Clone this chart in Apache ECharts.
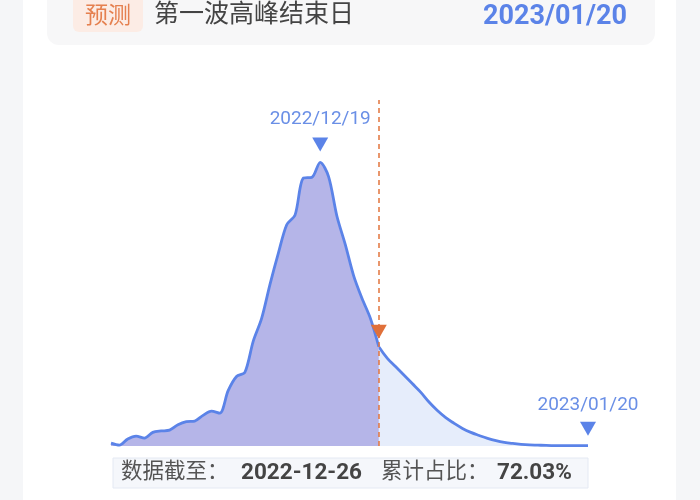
<!DOCTYPE html>
<html><head><meta charset="utf-8">
<script src="https://cdn.jsdelivr.net/npm/echarts@6/dist/echarts.min.js"></script>
<style>
html,body{margin:0;padding:0;width:700px;height:500px;background:#f5f6f8;overflow:hidden}
#card{position:absolute;left:23px;top:0;width:653px;height:500px;background:#fff}
#c{position:absolute;left:0;top:0;width:700px;height:500px}
</style></head>
<body><div id="card"></div><div id="c"></div>
<script>
// Dates 2022-11-24 .. 2023-01-20
const dates = [
 '2022-11-24','2022-11-25','2022-11-26','2022-11-27','2022-11-28','2022-11-29','2022-11-30',
 '2022-12-01','2022-12-02','2022-12-03','2022-12-04','2022-12-05','2022-12-06','2022-12-07',
 '2022-12-08','2022-12-09','2022-12-10','2022-12-11','2022-12-12','2022-12-13','2022-12-14',
 '2022-12-15','2022-12-16','2022-12-17','2022-12-18','2022-12-19','2022-12-20','2022-12-21',
 '2022-12-22','2022-12-23','2022-12-24','2022-12-25','2022-12-26','2022-12-27','2022-12-28',
 '2022-12-29','2022-12-30','2022-12-31','2023-01-01','2023-01-02','2023-01-03','2023-01-04',
 '2023-01-05','2023-01-06','2023-01-07','2023-01-08','2023-01-09','2023-01-10','2023-01-11',
 '2023-01-12','2023-01-13','2023-01-14','2023-01-15','2023-01-16','2023-01-17','2023-01-18',
 '2023-01-19','2023-01-20'
];
// Observed relative daily values (peak = 100), through 2022-12-26
const actualValues = [
 1.0,0.3,2.5,3.5,2.8,4.8,5.3,5.6,7.5,8.6,8.8,10.8,12.3,11.6,
 19.5,24.5,26,37,45,57,68,78,81.5,94.5,94.7,100,95,81,71,60,52,45,35
];
// Forecast values from 2022-12-26 to 2023-01-20
const forecastValues = [
 35,31,28,25,22,19,15.5,12.5,10,8,6.2,4.8,3.7,2.7,1.9,1.3,0.9,0.6,0.4,0.3,0.2,0.15,0.1,0.1,0.1,0.1
];
const peakDate = '2022-12-19';
const cutDate = '2022-12-26';
const endDate = '2023/01/20';
const headerTag = '预测';
const headerTitle = '第一波高峰结束日';
const footerParts = ['数据截至：','2022-12-26','累计占比：','72.03%'];

const cutIdx = dates.indexOf(cutDate);
const actualSeries = dates.map((d,i)=> i < actualValues.length ? actualValues[i] : null);
const forecastSeries = dates.map((d,i)=> i >= cutIdx ? forecastValues[i-cutIdx] : null);
const peakVal = Math.max(...actualValues);

const blue = '#5b83e8';
const font = "Roboto, 'Noto Sans CJK SC', sans-serif";

const chart = echarts.init(document.getElementById('c'));
chart.setOption({
  animation:false,
  grid:{left:111,right:112,top:100,bottom:54},
  xAxis:{type:'category',data:dates,boundaryGap:false,show:false},
  yAxis:{type:'value',min:0,max:122,show:false},
  series:[
    {type:'line',data:forecastSeries,smooth:0.4,symbol:'none',z:2,
     lineStyle:{color:blue,width:2.8},
     areaStyle:{color:'#e6edfb',opacity:1},
     markPoint:{symbol:'triangle',symbolRotate:180,symbolSize:[16,14],symbolOffset:[0,-17],
       itemStyle:{color:blue},
       label:{show:true,position:'top',distance:7,color:'#6a8fe6',fontSize:19,fontFamily:font,formatter:endDate},
       data:[{coord:[dates.length-1, forecastValues[forecastValues.length-1]]}]}
    },
    {type:'line',data:actualSeries,smooth:0.3,symbol:'none',z:3,
     lineStyle:{color:blue,width:2.8},
     areaStyle:{color:'#b5b5e8',opacity:1},
     markLine:{symbol:'none',silent:true,
       lineStyle:{color:'#e2743c',type:[5,4],width:1.5},
       label:{show:false},
       data:[{xAxis:cutDate}]},
     markPoint:{symbol:'triangle',symbolRotate:180,symbolSize:[16,14],
       label:{show:true,position:'top',distance:9,color:'#6a8fe6',fontSize:19,fontFamily:font},
       data:[
        {coord:[peakDate, peakVal],symbolOffset:[0,-18],itemStyle:{color:blue},
         label:{formatter:peakDate.replace(/-/g,'/')}},
        {coord:[cutDate, actualValues[actualValues.length-1]],symbolOffset:[0,-15],
         itemStyle:{color:'#e0703a'},label:{show:false}}
       ]}
    }
  ],
  graphic:[
    {type:'rect',shape:{x:47,y:-20,width:608,height:65,r:12},style:{fill:'#f7f7f8'},z:0},
    {type:'rect',shape:{x:73,y:-5,width:70,height:37,r:6},style:{fill:'#fcece5'},z:1},
    {type:'text',x:108,y:17,style:{text:headerTag,fill:'#e5804f',fontSize:23,fontFamily:font,align:'center',verticalAlign:'middle'},z:2},
    {type:'text',x:154,y:16,style:{text:headerTitle,fill:'#444',fontSize:25,fontFamily:font,align:'left',verticalAlign:'middle'},z:2},
    {type:'text',x:627,y:17,style:{text:endDate,fill:blue,fontSize:27,fontWeight:'bold',fontFamily:font,align:'right',verticalAlign:'middle'},z:2},
    {type:'rect',shape:{x:113,y:458,width:475,height:30},style:{fill:'#f5f7fb',stroke:'#e4e9f3',lineWidth:1},z:1},
    {type:'text',x:121,y:473,z:2,style:{text:footerParts[0],fill:'#555',fontSize:21.5,fontFamily:font,verticalAlign:'middle'}},
    {type:'text',x:241,y:473,z:2,style:{text:footerParts[1],fill:'#444',fontSize:22.5,fontWeight:'bold',fontFamily:font,verticalAlign:'middle'}},
    {type:'text',x:381,y:473,z:2,style:{text:footerParts[2],fill:'#555',fontSize:21.5,fontFamily:font,verticalAlign:'middle'}},
    {type:'text',x:497,y:473,z:2,style:{text:footerParts[3],fill:'#444',fontSize:22.5,fontWeight:'bold',fontFamily:font,verticalAlign:'middle'}}
  ]
});
</script>
</body></html>
